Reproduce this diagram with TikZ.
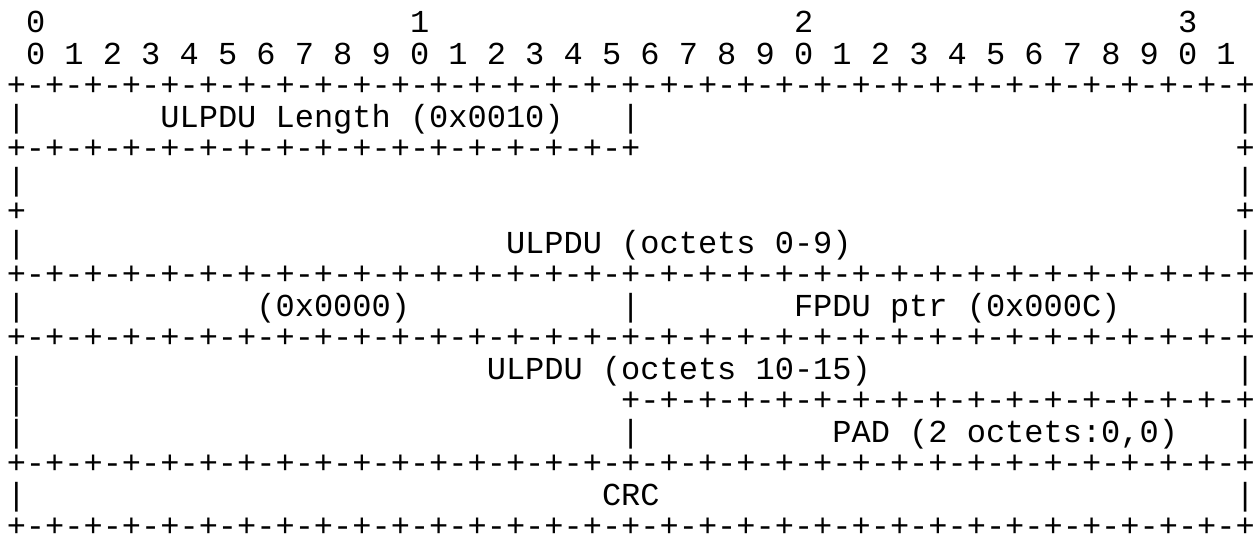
\documentclass[tikz,border=0pt]{standalone}
\usepackage{fontspec}
\setmonofont{Liberation Mono}

\newcommand\fullrule{+-+-+-+-+-+-+-+-+-+-+-+-+-+-+-+-+-+-+-+-+-+-+-+-+-+-+-+-+-+-+-+-+}
\newcommand\halfrule{+-+-+-+-+-+-+-+-+-+-+-+-+-+-+-+-+}

\begin{document}
\begin{tikzpicture}[font=\ttfamily\fontsize{16}{18}\selectfont, x=9.6pt, y=-15.75pt,
                    every node/.style={anchor=base west, inner sep=0pt}]
\useasboundingbox (-3.2pt,0.6pt) rectangle (625.3pt,-270.4pt);
% bit numbers
\foreach \t [count=\k from 0] in {0,1,2,3}
    \node (tens\t) at (1+20*\k,1) {\t};
\node (bits) at (1,2) {0 1 2 3 4 5 6 7 8 9 0 1 2 3 4 5 6 7 8 9 0 1 2 3 4 5 6 7 8 9 0 1};
% rules
\foreach \r in {3,9,11,15,17}
    \node (rule\r) at (0,\r) {\fullrule};
\node (rule5) at (0,5) {\halfrule};
\node (rule13) at (32,13) {\halfrule};
\node (end5) at (64,5) {+};
\node (left7) at (0,7) {+};
\node (right7) at (64,7) {+};
% side bars
\foreach \r in {4,6,8,10,12,13,14,16}
    \node (left\r) at (0,\r) {|};
\foreach \r in {4,6,8,10,12,14,16}
    \node (right\r) at (64,\r) {|};
\foreach \r in {4,10,14}
    \node (mid\r) at (32,\r) {|};
% fields
\node (length) at (8,4) {ULPDU Length (0x0010)};
\node (ulpdua) at (26,8) {ULPDU (octets 0-9)};
\node (zero) at (13,10) {(0x0000)};
\node (fpdu) at (41,10) {FPDU ptr (0x000C)};
\node (ulpdub) at (25,12) {ULPDU (octets 10-15)};
\node (pad) at (43,14) {PAD (2 octets:0,0)};
\node (crc) at (31,16) {CRC};
\end{tikzpicture}
\end{document}
